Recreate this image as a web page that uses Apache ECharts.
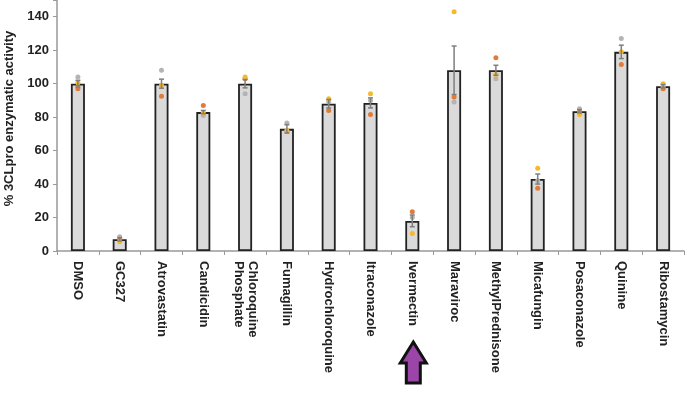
<!DOCTYPE html>
<html>
<head>
<meta charset="utf-8">
<script src="https://cdn.jsdelivr.net/npm/echarts@6/dist/echarts.min.js"></script>
<style>
  html, body { margin: 0; padding: 0; background: #fff; }
  #chart { width: 698px; height: 398px; }
</style>
</head>
<body>
<div id="chart"></div>
<script>
// compounds on the x axis
const categories = ['DMSO', 'GC327', 'Atrovastatin', 'Candicidin', 'Chloroquine\nPhosphate',
  'Fumagillin', 'Hydrochloroquine', 'Itraconazole', 'Ivermectin', 'Maraviroc',
  'MethylPrednisone', 'Micafungin', 'Posaconazole', 'Quinine', 'Ribostamycin'];

// bar heights (mean %) and error (sem)
const means = [100, 7, 100, 83, 100, 73, 88, 88.5, 18, 108, 108, 43, 83.5, 119, 98.5];
const sems  = [2, 1, 2.7, 1, 2.5, 2.5, 2.5, 3, 3.5, 14.5, 3, 3, 1, 4, 1];

// single replicates (dots)
const grayRep   = [104, 8.5, 108, 81, 94, 76.5, 89, 90, 20, 89, 103, 42, 85, 127, 98];
const orangeRep = [97, 7, 92.5, 87, 103, 71.5, 84, 81.5, 23.5, 92, 115.5, 37.5, 83, 111.5, 97];
const yellowRep = [100.5, 5.5, 99, 82.5, 104, 72, 91, 94, 10.5, 143, 105.5, 49.5, 81.5, 119, 100];

const yTicks = [0, 20, 40, 60, 80, 100, 120, 140];

const font = "'Liberation Sans', Arial, sans-serif";
const chart = echarts.init(document.getElementById('chart'));

function dots(name, arr, color) {
  return {
    name: name,
    type: 'scatter',
    data: arr.map((v, i) => [i, v]),
    symbolSize: 5,
    itemStyle: { color: color, opacity: 1 },
    z: 3,
    silent: true
  };
}

chart.setOption({
  animation: false,
  grid: { left: 57, right: 14, top: 0, bottom: 147, outerBoundsMode: 'none' },
  xAxis: {
    type: 'category',
    data: categories,
    boundaryGap: true,
    axisLine: { lineStyle: { color: '#999', width: 1.5 } },
    axisTick: { show: true, alignWithLabel: false, length: 4, lineStyle: { color: '#999' } },
    axisLabel: {
      rotate: -90,
      interval: 0,
      margin: 10,
      color: '#222',
      fontFamily: font,
      fontWeight: 'bold',
      fontSize: 13,
      lineHeight: 14
    }
  },
  yAxis: {
    type: 'value',
    min: 0,
    max: 150,
    interval: 20,
    splitLine: { show: false },
    axisLine: { show: true, lineStyle: { color: '#999', width: 1.5 } },
    axisTick: { show: true, length: 4, lineStyle: { color: '#999' } },
    axisLabel: {
      color: '#222',
      fontFamily: font,
      fontWeight: 'bold',
      fontSize: 13,
      margin: 8,
      formatter: v => yTicks.indexOf(v) >= 0 ? String(v) : ''
    },
    name: '% 3CLpro enzymatic activity',
    nameLocation: 'middle',
    nameGap: 40,
    nameTextStyle: {
      color: '#222', fontFamily: font, fontWeight: 'bold', fontSize: 13,
      padding: [0, 0, 0, 14]
    }
  },
  series: [
    {
      type: 'bar',
      data: means,
      barWidth: 14,
      itemStyle: { color: '#dadada', borderColor: '#222', borderWidth: 1.8 },
      z: 2,
      silent: true
    },
    dots('gray', grayRep, '#b4b4b4'),
    dots('orange', orangeRep, '#e07b39'),
    dots('yellow', yellowRep, '#f6b92b'),
    {
      type: 'custom',
      data: means.map((m, i) => [i, m, sems[i]]),
      z: 4,
      silent: true,
      renderItem: function (params, api) {
        const i = api.value(0), m = api.value(1), e = api.value(2);
        const hi = api.coord([i, m + e]);
        const lo = api.coord([i, m - e]);
        const style = { stroke: '#7f7f7f', lineWidth: 1.5 };
        return {
          type: 'group',
          children: [
            { type: 'line', shape: { x1: hi[0], y1: hi[1], x2: lo[0], y2: lo[1] }, style: style },
            { type: 'line', shape: { x1: hi[0] - 2.5, y1: hi[1], x2: hi[0] + 2.5, y2: hi[1] }, style: style },
            { type: 'line', shape: { x1: lo[0] - 2.5, y1: lo[1], x2: lo[0] + 2.5, y2: lo[1] }, style: style }
          ]
        };
      }
    }
  ]
});

// purple arrow under Ivermectin
const cx = chart.convertToPixel({ xAxisIndex: 0 }, 'Ivermectin') + 1;
chart.setOption({
  graphic: [{
    type: 'polygon',
    shape: {
      points: [
        [cx, 342], [cx + 13, 363], [cx + 7, 363], [cx + 7, 383],
        [cx - 7, 383], [cx - 7, 363], [cx - 13, 363]
      ]
    },
    style: { fill: '#9b45a8', stroke: '#111', lineWidth: 3, lineJoin: 'miter' }
  }]
});
</script>
</body>
</html>
